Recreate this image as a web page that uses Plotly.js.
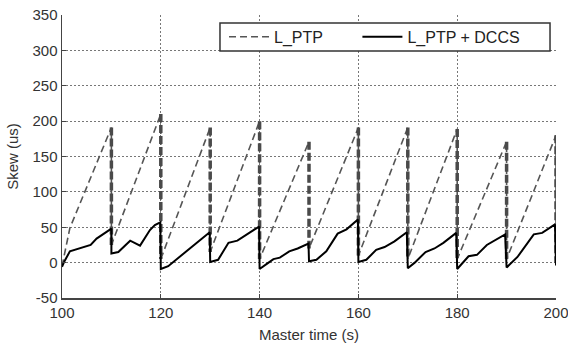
<!DOCTYPE html>
<html>
<head>
<meta charset="utf-8">
<script src="https://cdn.plot.ly/plotly-3.0.1.min.js"></script>
<style>
  html, body { margin: 0; padding: 0; background: #fff; }
  #chart { width: 568px; height: 346px; }
</style>
</head>
<body>
<div id="chart"></div>
<script>
// ---- Data ----
// L_PTP (dashed): sawtooth, reset every 10 s
var ptpTime = [100, 101.6, 110, 110, 120, 120, 130, 130, 140, 140, 150, 150, 160, 160, 170, 170, 180, 180, 190, 190, 200, 200];
var ptpSkew = [-5, 49, 191, 25, 210, 5, 191, 15, 200, 5, 171, 20, 191, 10, 191, 5, 189, 5, 171, 5, 180, 0];

// L_PTP + DCCS (solid)
var dccsTime = [100, 100.5, 101.6, 105.8, 107, 109.8, 110, 110, 111.4, 113.8, 115.8, 117.8, 118.8, 119.9, 120,
  121.5, 125.6, 129.9, 130, 131.6, 133.7, 135.5, 139.9, 140,
  141.6, 142.8, 144.1, 146, 147.7, 149.9, 150,
  151.5, 153.5, 155.8, 157.6, 159.9, 160,
  161.6, 163.6, 165.3, 167.3, 169.8, 170,
  171.4, 173.6, 175.4, 177.2, 179.8, 180,
  181.3, 182.3, 184, 186, 189.7, 190,
  192.2, 195.5, 197.2, 199.8, 200];
var dccsSkew = [-6, 2, 16, 25, 34, 47, 48, 13, 15, 31, 24, 46, 53, 57, -9,
  -5, 18, 43, 1, 4, 28, 31, 51, -9,
  -1, 5, 7, 16, 20, 27, 2,
  4, 16, 41, 47, 61, 1,
  4, 18, 22, 30, 43, -8,
  0, 15, 20, 28, 42, -9,
  2, 9, 11, 25, 40, -7,
  8, 40, 42, 54, -4];

var seriesNames = ['L_PTP', 'L_PTP + DCCS'];
var xTickVals = [100, 120, 140, 160, 180, 200];
var yTickVals = [-50, 0, 50, 100, 150, 200, 250, 300, 350];

// reset (vertical) segments of the dashed series, drawn heavier
var resetX = [], resetY = [];
for (var i = 1; i < ptpTime.length; i++) {
  if (ptpTime[i] === ptpTime[i - 1]) {
    resetX.push(ptpTime[i - 1], ptpTime[i], null);
    resetY.push(ptpSkew[i - 1], ptpSkew[i], null);
  }
}

var font = 'Liberation Sans, Arial, Helvetica, sans-serif';

var traces = [
  {
    x: ptpTime, y: ptpSkew, name: seriesNames[0], mode: 'lines', legend: 'legend',
    line: { color: '#555555', width: 1.6, dash: '7px,4px' }
  },
  {
    x: resetX, y: resetY, mode: 'lines', showlegend: false, hoverinfo: 'skip',
    line: { color: '#4a4a4a', width: 3.5, dash: '8px,3px' }, connectgaps: false
  },
  {
    x: dccsTime, y: dccsSkew, name: seriesNames[1], mode: 'lines', legend: 'legend2',
    line: { color: '#000000', width: 2 }
  }
];

var axisCommon = {
  showline: true, linecolor: '#444', linewidth: 1.5,
  ticks: 'inside', ticklen: 4, tickcolor: '#444', tickwidth: 1,
  showgrid: true, gridcolor: '#777', gridwidth: 1, griddash: '1.5px,2.5px',
  zeroline: false, mirror: false, ticklabeloverflow: 'allow',
  tickfont: { family: font, size: 15, color: '#333' }
};

var legendCommon = {
  orientation: 'h', yanchor: 'top', xanchor: 'left',
  bgcolor: 'rgba(0,0,0,0)', borderwidth: 0,
  font: { family: font, size: 16, color: '#222' },
  itemwidth: 40
};

var layout = {
  width: 568, height: 346,
  margin: { l: 62, r: 12, t: 15, b: 48 },
  paper_bgcolor: '#fff', plot_bgcolor: '#fff',
  showlegend: true,
  xaxis: Object.assign({}, axisCommon, {
    range: [100, 200], tickvals: xTickVals, ticktext: xTickVals.map(String),
    title: { text: 'Master time (s)', font: { family: font, size: 15, color: '#333' }, standoff: 10 }
  }),
  yaxis: Object.assign({}, axisCommon, {
    range: [-50, 350], tickvals: yTickVals, ticktext: yTickVals.map(String),
    title: { text: 'Skew (us)', font: { family: font, size: 15, color: '#333' }, standoff: 10 }
  }),
  legend: Object.assign({}, legendCommon, { x: 0.328, y: 0.983 }),
  legend2: Object.assign({}, legendCommon, { x: 0.598, y: 0.983 }),
  shapes: [{
    type: 'rect', xref: 'paper', yref: 'paper',
    x0: 0.3198, x1: 0.9879, y0: 0.8728, y1: 0.9717,
    fillcolor: '#fff', line: { color: '#333', width: 1.5 }, layer: 'above'
  }]
};

Plotly.newPlot('chart', traces, layout, { displayModeBar: false, staticPlot: true });
</script>
</body>
</html>
